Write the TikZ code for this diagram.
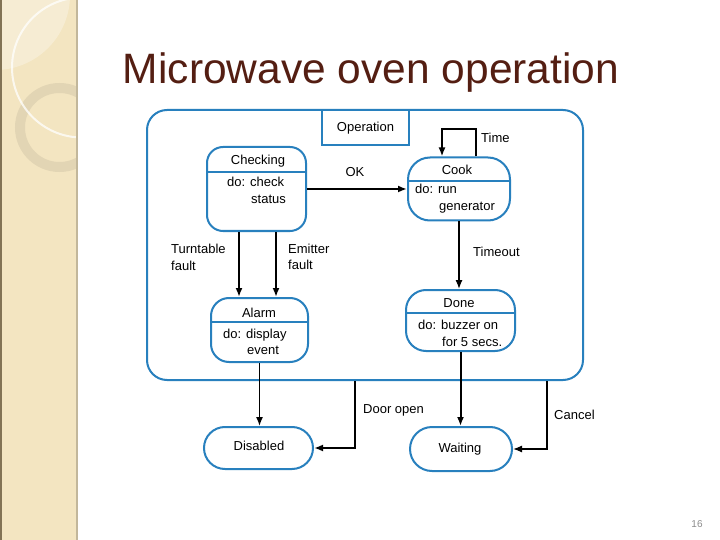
\documentclass[tikz,border=0pt]{standalone}
\usepackage{fontspec}
\setmainfont{Liberation Sans}
\usepackage{xcolor}
\usetikzlibrary{arrows.meta}
\definecolor{sblue}{RGB}{40,128,190}
\definecolor{tbrown}{RGB}{84,30,18}
\definecolor{sbeige}{RGB}{243,229,193}
\definecolor{sedge}{RGB}{130,115,85}

\begin{document}
\begin{tikzpicture}[x=1pt,y=-1pt,
  state/.style={draw=sblue, line width=2pt, inner sep=0pt},
  txt/.style={inner sep=0pt, font=\fontsize{13}{15}\selectfont},
  thk/.style={-{Latex[length=9pt,width=7pt]}, line width=2pt},
  thn/.style={-{Latex[length=9pt,width=7pt]}, line width=1.3pt}]

%Set up:
\useasboundingbox (0,0) rectangle (720,540);
\fill[white] (0,0) rectangle (720,540);
\fill[sbeige] (0,0) rectangle (78,540);
\begin{scope}
\clip (0,0) rectangle (76,540);
\fill[white, opacity=0.3] (-5,-5) circle (75);
\draw[black!7!sbeige, line width=10pt] (59.5,127.5) circle (39.5);
\draw[white, opacity=0.75, line width=2pt] (82,67.5) circle (70);
\end{scope}
\draw[sedge, line width=1.5pt] (0.75,0) -- (0.75,540);
\draw[black!20!sbeige, line width=2pt] (77,0) -- (77,540);

\node[anchor=base, text=tbrown, inner sep=0pt, font=\fontsize{42.5}{50}\selectfont] (title) at (371,83.5) {Microwave oven operation};
\node[anchor=base, text=black!45, inner sep=0pt, font=\fontsize{10}{12}\selectfont] (pagenum) at (697,527) {16};

%superstate
\node[state, rounded corners=20pt, minimum width=436pt, minimum height=270pt] (operation) at (365,245) {};
\node[state, minimum width=87pt, minimum height=35pt] (oplabel) at (365.5,127.5) {};
\node[txt, anchor=base] (optext) at (365.5,132) {Operation};

%states
\node[state, rounded corners=16pt, minimum width=99pt, minimum height=84pt] (checking) at (256.5,189) {};
\draw[sblue, line width=2pt] (checking.west |- 0,172) -- (checking.east |- 0,172);
\node[txt, anchor=base] (checkingT) at (258,165) {Checking};
\node[txt, anchor=base west] (checkingA) at (227,187) {do: check};
\node[txt, anchor=base west] (checkingB) at (251,204) {status};

\node[state, rounded corners=22pt, minimum width=102pt, minimum height=63pt] (cook) at (459,189) {};
\draw[sblue, line width=2pt] (cook.west |- 0,181) -- (cook.east |- 0,181);
\node[txt, anchor=base] (cookT) at (457,175) {Cook};
\node[txt, anchor=base west] (cookA) at (415,194) {do: run};
\node[txt, anchor=base west] (cookB) at (439,211) {generator};

\node[state, rounded corners=18pt, minimum width=97pt, minimum height=64pt] (alarm) at (259.5,330) {};
\draw[sblue, line width=2pt] (alarm.west |- 0,322) -- (alarm.east |- 0,322);
\node[txt, anchor=base] (alarmT) at (259,317) {Alarm};
\node[txt, anchor=base west] (alarmA) at (223,338) {do: display};
\node[txt, anchor=base west] (alarmB) at (247,354) {event};

\node[state, rounded corners=20pt, minimum width=109pt, minimum height=61pt] (done) at (460.5,320.5) {};
\draw[sblue, line width=2pt] (done.west |- 0,313) -- (done.east |- 0,313);
\node[txt, anchor=base] (doneT) at (459,307) {Done};
\node[txt, anchor=base west] (doneA) at (418,329) {do: buzzer on};
\node[txt, anchor=base west] (doneB) at (442,346) {for 5 secs.};

\node[state, rounded corners=21pt, minimum width=109pt, minimum height=42pt] (disabled) at (258.5,448) {};
\node[txt, anchor=base] (disabledT) at (259,450) {Disabled};
\node[state, rounded corners=22pt, minimum width=102pt, minimum height=44pt] (waiting) at (461,449) {};
\node[txt, anchor=base] (waitingT) at (460,452) {Waiting};

%transitions
\draw[thk] (checking) -- (cook);
\node[txt, anchor=base] (lok) at (355,177) {OK};
\draw[thk] ([xshift=17pt]cook.north) |- ([yshift=27pt]cook.north) -| ([xshift=-17pt]cook.north);
\node[txt, anchor=base west] (ltime) at (481,143) {Time};

\draw[thk] ([xshift=-17.5pt]checking.south) -- ([xshift=-17.5pt]checking.south |- alarm.north);
\node[txt, anchor=base west] (lturn) at (171,254) {Turntable};
\node[txt, anchor=base west] (lturnb) at (171,270) {fault};
\draw[thk] ([xshift=19.5pt]checking.south) -- ([xshift=19.5pt]checking.south |- alarm.north);
\node[txt, anchor=base west] (lemit) at (288,253) {Emitter};
\node[txt, anchor=base west] (lemitb) at (288,269) {fault};

\draw[thn] (cook.south) -- (cook.south |- done.north);
\node[txt, anchor=base west] (ltimeout) at (473,256) {Timeout};

\draw[thn] (alarm.south) -- (alarm.south |- disabled.north);
\draw[thk] (done.south) -- (done.south |- waiting.north);

\coordinate (dooropen) at (operation.south -| 355,0);
\draw[thk] (dooropen) |- (disabled.east);
\node[txt, anchor=base west] (ldoor) at (363,413) {Door open};
\coordinate (cancel) at (operation.south -| 547,0);
\draw[thn] (cancel) |- (waiting.east);
\node[txt, anchor=base west] (lcancel) at (554,419) {Cancel};

\end{tikzpicture}
\end{document}
